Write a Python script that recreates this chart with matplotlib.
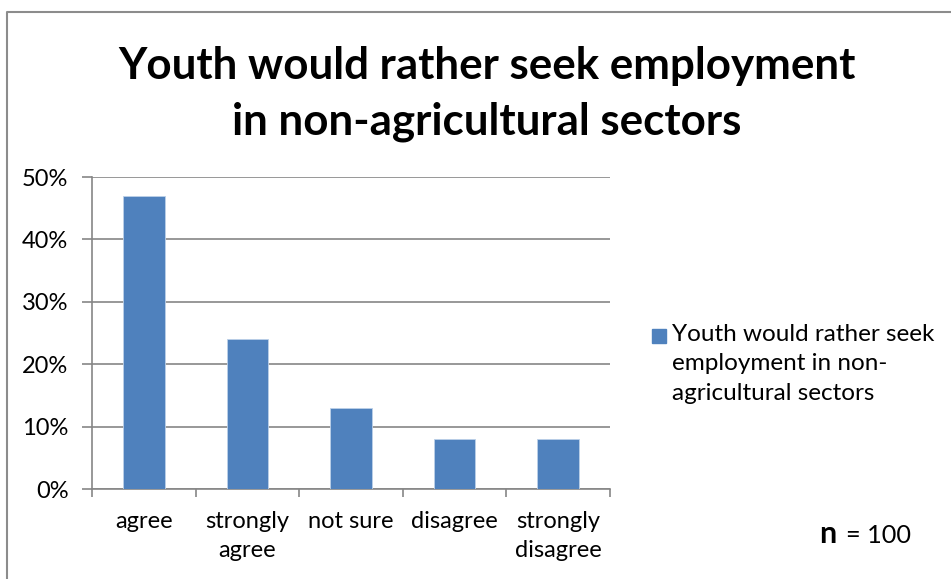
import matplotlib.pyplot as plt
from matplotlib.lines import Line2D
from matplotlib.patches import Rectangle
from matplotlib.ticker import PercentFormatter, FixedLocator, NullFormatter

categories = ["agree", "strongly\nagree", "not sure", "disagree", "strongly\ndisagree"]
values = [47, 24, 13, 8, 8]
series_name = "Youth would rather seek\nemployment in non-\nagricultural sectors"
title = "Youth would rather seek employment\nin non-agricultural sectors"
n_total = 100

bar_color = "#4F81BD"
grid_color = "#868686"
plt.rcParams['font.family'] = ['Lato', 'DejaVu Sans']

fig = plt.figure(figsize=(9.51, 5.79), dpi=100)
W, H = 951, 579
ax = fig.add_axes([92 / W, 1 - 489 / H, (610 - 92) / W, (489 - 177) / H])

x = list(range(len(values)))
ax.bar(x, values, width=0.4, color=bar_color, edgecolor="#BCD0E8", linewidth=0.6, zorder=3)

ax.set_xlim(-0.5, len(values) - 0.5)
ax.set_ylim(0, 50)
ax.set_yticks(range(0, 51, 10))
ax.yaxis.set_major_formatter(PercentFormatter(decimals=0))
ax.grid(axis="y", color=grid_color, linewidth=1.2, zorder=0)

# category labels centred, tick marks at boundaries
ax.set_xticks(x)
ax.set_xticklabels(categories, fontsize=17, linespacing=1.45)
ax.tick_params(axis="x", length=0, pad=16)
ax.xaxis.set_minor_locator(FixedLocator([i - 0.5 for i in range(len(values) + 1)]))
ax.xaxis.set_minor_formatter(NullFormatter())
ax.tick_params(axis="x", which="minor", length=6, color=grid_color, width=1.2)
ax.tick_params(axis="y", length=7, color=grid_color, width=1.2, labelsize=17, pad=10)

for s in ["top", "right"]:
    ax.spines[s].set_visible(False)
for s in ["left", "bottom"]:
    ax.spines[s].set_color(grid_color)
    ax.spines[s].set_linewidth(1.2)

fig.text(487 / W, 1 - 46 / H, title, ha="center", va="top", fontsize=31.6,
         fontweight="bold", linespacing=1.47)

# legend
fig.patches.append(Rectangle((652 / W, 1 - 343 / H), 14 / W, 14 / H,
                             transform=fig.transFigure, color=bar_color))
fig.text(672 / W, 1 - 324 / H, series_name, ha="left", va="top", fontsize=17.5,
         linespacing=1.5)

fig.text(819 / W, 1 - 543 / H, "n", fontsize=22, fontweight="bold", va="baseline")
fig.text(846 / W, 1 - 543 / H, "= " + str(n_total), fontsize=18.2, va="baseline")

# outer chart frame
fig.add_artist(Line2D([7 / W, 7 / W, 1], [0, 1 - 12 / H, 1 - 12 / H],
                      color="#8C8C8C", linewidth=1.5))

fig.savefig("out.png", dpi=100, facecolor="white")
